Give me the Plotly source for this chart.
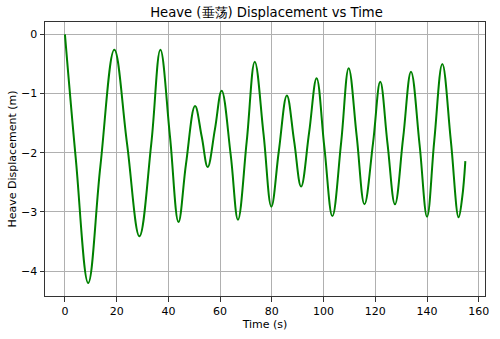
import plotly.graph_objects as go

# Points: extrema and the mid-level crossing between them
time_s = [0.0, 4.2, 9.0, 13.7, 19.1, 24.0, 28.8, 33.4, 36.9, 40.6, 43.9, 46.8, 50.3,
          52.9, 55.2, 58.0, 60.6, 64.1, 66.9, 70.3, 73.4, 76.8, 79.8, 82.7, 85.8,
          88.6, 91.3, 94.4, 97.3, 100.3, 103.4, 106.8, 109.7, 112.8, 115.8, 119.1, 121.9,
          124.7, 127.6, 130.75, 133.8, 137.1, 140.0, 142.8, 145.9, 149.2, 152.2, 153.6, 154.8]
heave_m = [0.0, -2.1, -4.20, -2.23, -0.26, -1.84, -3.41, -1.84, -0.26, -1.72, -3.17, -2.19, -1.21,
           -1.73, -2.24, -1.6, -0.95, -2.04, -3.13, -1.8, -0.46, -1.69, -2.91, -1.97, -1.03,
           -1.8, -2.57, -1.66, -0.74, -1.91, -3.07, -1.82, -0.57, -1.72, -2.87, -1.84, -0.80,
           -1.84, -2.87, -1.75, -0.63, -1.86, -3.08, -1.79, -0.50, -1.8, -3.09, -2.75, -2.14]

x_ticks = [0, 20, 40, 60, 80, 100, 120, 140, 160]
y_ticks = [-4, -3, -2, -1, 0]

fig = go.Figure()
fig.add_trace(go.Scatter(x=time_s, y=heave_m, mode="lines",
                         line=dict(color="#008000", width=2, shape="spline", smoothing=1.1),
                         hoverinfo="skip"))

axis_common = dict(showline=True, linecolor="#333333", linewidth=1, mirror=True,
                   ticks="outside", ticklen=4.5, tickcolor="#333333", tickwidth=1,
                   showgrid=True, gridcolor="#b0b0b0", gridwidth=0.8, zeroline=False,
                   tickfont=dict(family="DejaVu Sans", size=11, color="black"))

fig.update_layout(
    width=500, height=339,
    margin=dict(l=44, r=11, t=22, b=40),
    paper_bgcolor="white", plot_bgcolor="white",
    showlegend=False,
    font=dict(family="DejaVu Sans", color="black"),
    title=dict(text="Heave (垂荡) Displacement vs Time", x=(44 + 489) / 2 / 500, xanchor="center",
               y=1 - 12 / 339, yanchor="middle", font=dict(family="DejaVu Sans", size=13.2, color="black")),
    xaxis=dict(axis_common, range=[-7.7, 162.4], tickvals=x_ticks,
               title=dict(text="Time (s)", font=dict(size=11), standoff=3)),
    yaxis=dict(axis_common, range=[-4.42, 0.21], tickvals=y_ticks,
               title=dict(text="Heave Displacement (m)", font=dict(size=11), standoff=2)),
)

fig.write_html("out.html")
